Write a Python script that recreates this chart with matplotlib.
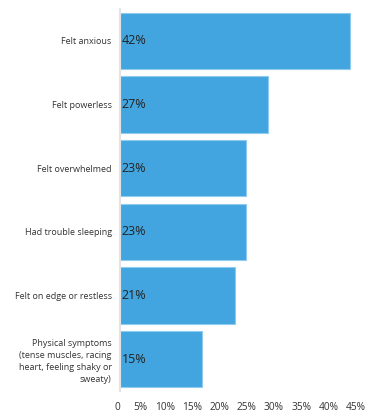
import matplotlib.pyplot as plt

categories = ["Felt anxious", "Felt powerless", "Felt overwhelmed", "Had trouble sleeping",
              "Felt on edge or restless",
              "Physical symptoms\n(tense muscles, racing\nheart, feeling shaky or\nsweaty)"]
values = [42, 27, 23, 23, 21, 15]
ticks = [0, 5, 10, 15, 20, 25, 30, 35, 40, 45]
tick_labels = ["0"] + [f"{t}%" for t in ticks[1:]]

plt.rcParams['font.family'] = ['Open Sans', 'DejaVu Sans']

fig = plt.figure(figsize=(3.8, 4.16), dpi=100)
ax = fig.add_axes([120/380, 1 - 391/416, 246/380, 382/416])

ypos = list(range(len(categories)))
ax.barh(ypos, values, height=0.89, color='#42a5df', edgecolor='#8ecbef', linewidth=0.8)
ax.set_ylim(len(categories) - 0.5, -0.5)
ax.set_xlim(0, 45)

for y, v in zip(ypos, values):
    ax.text(0.3, y, f"{v}%", va='center', ha='left', fontsize=9, color='#222222')

ax.set_yticks(ypos)
ax.set_yticklabels(categories, fontsize=6.5, color='#333333', linespacing=1.4)
ax.set_xticks(ticks)
ax.set_xticklabels(tick_labels, fontsize=7.3, color='#333333', ha='right')
ax.tick_params(length=0)
ax.tick_params(axis='y', pad=6)
ax.tick_params(axis='x', pad=8)

for s in ['top', 'right', 'bottom']:
    ax.spines[s].set_visible(False)
ax.spines['left'].set_color('#e3e3e3')
ax.spines['left'].set_linewidth(1.5)

fig.savefig("out.png", dpi=100)
